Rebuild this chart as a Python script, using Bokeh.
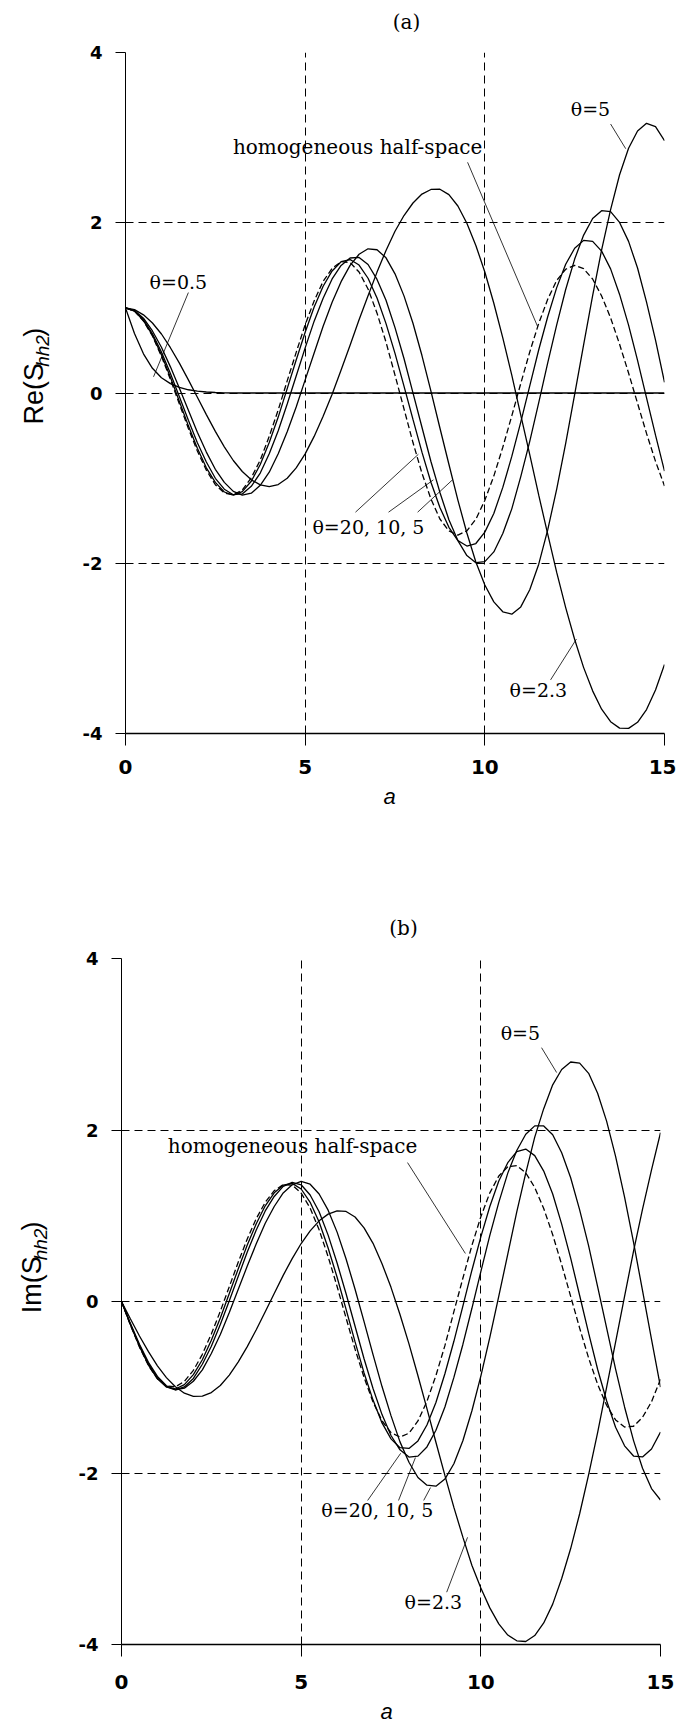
import numpy as np
from bokeh.plotting import figure
from bokeh.layouts import column, row
from bokeh.models import Range1d, FixedTicker, Label
from bokeh.core.properties import value
from bokeh.embed import file_html
from bokeh.resources import INLINE

# ---------------- data ----------------
A = [0.0, 0.25, 0.5, 0.75, 1.0, 1.25, 1.5, 1.75, 2.0, 2.25, 2.5, 2.75,
     3.0, 3.25, 3.5, 3.75, 4.0, 4.25, 4.5, 4.75, 5.0, 5.25, 5.5, 5.75,
     6.0, 6.25, 6.5, 6.75, 7.0, 7.25, 7.5, 7.75, 8.0, 8.25, 8.5, 8.75,
     9.0, 9.25, 9.5, 9.75, 10.0, 10.25, 10.5, 10.75, 11.0, 11.25, 11.5, 11.75,
     12.0, 12.25, 12.5, 12.75, 13.0, 13.25, 13.5, 13.75, 14.0, 14.25, 14.5, 14.75,
     15.0]

# (a) Re(S_hh2)
re_hom = [1.0, 0.963, 0.846, 0.670, 0.432, 0.160, -0.129, -0.417, -0.681, -0.907, -1.077, -1.174,
          -1.198, -1.140, -0.996, -0.788, -0.510, -0.199, 0.142, 0.477, 0.802, 1.082, 1.311, 1.465,
          1.543, 1.532, 1.421, 1.222, 0.938, 0.597, 0.210, -0.186, -0.582, -0.942, -1.245, -1.480,
          -1.620, -1.670, -1.619, -1.483, -1.261, -0.976, -0.637, -0.269, 0.112, 0.482, 0.818, 1.101,
          1.322, 1.454, 1.500, 1.460, 1.339, 1.140, 0.883, 0.573, 0.235, -0.121, -0.475, -0.803,
          -1.092]
re_t20 = [1.0, 0.963, 0.850, 0.679, 0.448, 0.186, -0.100, -0.386, -0.648, -0.879, -1.050, -1.163,
          -1.200, -1.158, -1.037, -0.840, -0.582, -0.283, 0.052, 0.387, 0.714, 1.010, 1.254, 1.434,
          1.542, 1.568, 1.503, 1.348, 1.115, 0.815, 0.465, 0.080, -0.310, -0.695, -1.048, -1.345,
          -1.578, -1.733, -1.798, -1.768, -1.634, -1.415, -1.109, -0.745, -0.342, 0.083, 0.508, 0.896,
          1.238, 1.512, 1.700, 1.793, 1.781, 1.667, 1.458, 1.158, 0.797, 0.383, -0.058, -0.495,
          -0.917]
re_t10 = [1.0, 0.965, 0.861, 0.696, 0.481, 0.230, -0.045, -0.320, -0.584, -0.811, -1.002, -1.130,
          -1.195, -1.186, -1.096, -0.940, -0.713, -0.444, -0.130, 0.200, 0.530, 0.844, 1.113, 1.340,
          1.499, 1.586, 1.593, 1.510, 1.334, 1.089, 0.768, 0.405, 0.002, -0.402, -0.805, -1.168,
          -1.489, -1.734, -1.910, -1.993, -1.981, -1.867, -1.651, -1.361, -0.983, -0.568, -0.112, 0.353,
          0.801, 1.216, 1.573, 1.855, 2.050, 2.142, 2.130, 2.004, 1.781, 1.468, 1.067, 0.621,
          0.125]
re_t5 = [1.0, 0.969, 0.879, 0.729, 0.538, 0.307, 0.056, -0.203, -0.461, -0.694, -0.896, -1.050,
         -1.156, -1.200, -1.177, -1.084, -0.930, -0.713, -0.455, -0.165, 0.154, 0.470, 0.784, 1.065,
         1.308, 1.500, 1.630, 1.694, 1.683, 1.588, 1.400, 1.141, 0.819, 0.440, 0.023, -0.411,
         -0.837, -1.258, -1.645, -1.985, -2.256, -2.454, -2.570, -2.598, -2.513, -2.312, -2.011, -1.608,
         -1.129, -0.592, -0.015, 0.568, 1.145, 1.681, 2.154, 2.564, 2.876, 3.078, 3.168, 3.130,
         2.963]
re_t23 = [1.0, 0.979, 0.918, 0.822, 0.693, 0.532, 0.351, 0.154, -0.050, -0.254, -0.451, -0.632,
          -0.793, -0.922, -1.020, -1.079, -1.100, -1.075, -1.002, -0.880, -0.715, -0.510, -0.274, -0.015,
          0.270, 0.562, 0.860, 1.143, 1.420, 1.675, 1.900, 2.085, 2.232, 2.337, 2.391, 2.394,
          2.330, 2.197, 1.994, 1.733, 1.422, 1.054, 0.647, 0.209, -0.261, -0.724, -1.200, -1.658,
          -2.108, -2.521, -2.896, -3.226, -3.499, -3.715, -3.861, -3.937, -3.940, -3.868, -3.719, -3.488,
          -3.190]
a_t05 = [0.0, 0.25, 0.5, 0.75, 1.0, 1.25, 1.5, 1.75, 2.0, 2.25, 2.5, 2.75, 3.0, 15.0]
re_t05 = [1.0, 0.70, 0.46, 0.29, 0.18, 0.11, 0.065, 0.038, 0.022, 0.012, 0.006, 0.002, 0.0, 0.0]

# (b) Im(S_hh2)
im_hom = [0.0, -0.277, -0.532, -0.746, -0.901, -0.986, -0.995, -0.931, -0.803, -0.616, -0.379, -0.114,
          0.173, 0.460, 0.730, 0.967, 1.157, 1.292, 1.363, 1.358, 1.264, 1.090, 0.836, 0.523,
          0.175, -0.193, -0.556, -0.884, -1.173, -1.391, -1.530, -1.580, -1.536, -1.393, -1.165, -0.864,
          -0.515, -0.119, 0.271, 0.652, 0.988, 1.267, 1.463, 1.571, 1.584, 1.501, 1.330, 1.085,
          0.779, 0.430, 0.060, -0.310, -0.659, -0.965, -1.210, -1.381, -1.464, -1.455, -1.350, -1.169,
          -0.908]
im_t20 = [0.0, -0.272, -0.525, -0.741, -0.902, -0.996, -1.020, -0.970, -0.852, -0.679, -0.451, -0.192,
          0.094, 0.382, 0.660, 0.907, 1.116, 1.267, 1.356, 1.378, 1.312, 1.157, 0.927, 0.624,
          0.283, -0.092, -0.471, -0.833, -1.150, -1.416, -1.602, -1.705, -1.713, -1.626, -1.440, -1.178,
          -0.842, -0.464, -0.054, 0.362, 0.754, 1.108, 1.405, 1.619, 1.748, 1.778, 1.701, 1.521,
          1.254, 0.902, 0.506, 0.070, -0.369, -0.790, -1.158, -1.467, -1.683, -1.802, -1.813, -1.720,
          -1.522]
im_t10 = [0.0, -0.267, -0.515, -0.728, -0.892, -0.995, -1.030, -0.996, -0.897, -0.732, -0.522, -0.268,
          0.008, 0.294, 0.577, 0.833, 1.056, 1.225, 1.342, 1.390, 1.361, 1.242, 1.047, 0.774,
          0.449, 0.090, -0.289, -0.668, -1.014, -1.319, -1.563, -1.730, -1.814, -1.803, -1.696, -1.502,
          -1.230, -0.885, -0.501, -0.082, 0.349, 0.772, 1.156, 1.497, 1.761, 1.951, 2.048, 2.047,
          1.945, 1.734, 1.443, 1.068, 0.649, 0.173, -0.308, -0.789, -1.230, -1.622, -1.944, -2.182,
          -2.315]
im_t5 = [0.0, -0.258, -0.500, -0.709, -0.874, -0.983, -1.029, -1.011, -0.930, -0.797, -0.607, -0.384,
         -0.128, 0.144, 0.413, 0.673, 0.912, 1.108, 1.266, 1.361, 1.400, 1.368, 1.254, 1.065,
         0.809, 0.496, 0.143, -0.234, -0.619, -0.992, -1.331, -1.637, -1.875, -2.053, -2.142, -2.154,
         -2.071, -1.892, -1.624, -1.277, -0.870, -0.419, 0.062, 0.553, 1.044, 1.496, 1.917, 2.249,
         2.527, 2.706, 2.793, 2.780, 2.661, 2.429, 2.104, 1.692, 1.217, 0.689, 0.126, -0.442,
         -0.999]
im_t23 = [0.0, -0.204, -0.402, -0.585, -0.750, -0.888, -0.995, -1.069, -1.106, -1.104, -1.062, -0.980,
          -0.858, -0.704, -0.526, -0.329, -0.120, 0.094, 0.305, 0.500, 0.676, 0.823, 0.941, 1.019,
          1.057, 1.050, 0.985, 0.859, 0.678, 0.441, 0.165, -0.152, -0.494, -0.866, -1.249, -1.641,
          -2.028, -2.401, -2.748, -3.075, -3.341, -3.573, -3.759, -3.890, -3.957, -3.965, -3.896, -3.749,
          -3.529, -3.230, -2.881, -2.475, -2.019, -1.528, -1.001, -0.474, 0.060, 0.587, 1.078, 1.534,
          1.968]

x_ticks = [0, 5, 10, 15]
y_ticks = [-4, -2, 0, 2, 4]
y_tick_text = ["-4", "-2", "0", "2", "4"]

# in-plot annotation texts and anchor positions (data coordinates)
a_label_text = ["\u03b8=0.5", "homogeneous half-space", "\u03b8=5", "\u03b8=20, 10, 5", "\u03b8=2.3"]
a_label_x = [1.47, 6.46, 12.94, 6.76, 11.49]
a_label_y = [1.30, 2.89, 3.34, -1.57, -3.49]
a_ptr_x0 = [1.75, 9.52, 13.50, 6.40, 7.32, 8.13, 11.83]
a_ptr_y0 = [1.18, 2.71, 3.16, -1.40, -1.40, -1.40, -3.37]
a_ptr_x1 = [0.78, 11.47, 13.92, 8.15, 8.57, 9.10, 12.55]
a_ptr_y1 = [0.19, 0.78, 2.87, -0.72, -1.02, -1.02, -2.89]

b_label_text = ["homogeneous half-space", "\u03b8=5", "\u03b8=20, 10, 5", "\u03b8=2.3"]
b_label_x = [4.76, 11.10, 7.12, 8.68]
b_label_y = [1.81, 3.13, -2.43, -3.50]
b_ptr_x0 = [7.96, 11.69, 6.85, 7.71, 8.41, 9.05]
b_ptr_y0 = [1.62, 2.96, -2.32, -2.32, -2.32, -3.39]
b_ptr_x1 = [9.57, 12.11, 7.77, 8.18, 8.60, 9.63]
b_ptr_y1 = [0.56, 2.67, -1.77, -1.82, -2.17, -2.75]

# page layout (pixels from the top of the page)
W = 676
YLAB_W = 60
HEAD_A, BODY_A, FOOT_A = 40, 743, 79      # panel (a): 862 px
HEAD_B, BODY_B, FOOT_B = 80, 756, 26      # panel (b): 862 px
TOP_A = 0
TOP_B = 862

# outside texts: titles, x-axis labels, y-axis label pieces (page pixels, centers)
title_text = ["(a)", "(b)"]
title_xy = [(406, 21), (403, 927)]
xlab_xy = [(389, 796), (386, 1711)]
a_ylab_text = ["Re(S", "hh2", ")"]
b_ylab_text = ["Im(S", "hh2", ")"]
a_ylab_x = [33.6, 41.8, 33.6]
a_ylab_y = [412.2, 365.6, 345.3]
b_ylab_x = [31.6, 39.8, 31.6]
b_ylab_y = [1301.5, 1257.2, 1236.8]


def blank(width, height, top):
    """A plain figure whose data coordinates are page pixels."""
    q = figure(width=width, height=height, x_range=Range1d(0, width),
               y_range=Range1d(top + height, top), output_backend="svg",
               toolbar_location=None, x_axis_location=None, y_axis_location=None,
               min_border=0)
    q.outline_line_color = None
    q.grid.visible = False
    q.background_fill_color = "white"
    q.border_fill_color = "white"
    return q


def head(top, height, text, xy):
    q = blank(W, height, top)
    q.text(x=[xy[0]], y=[xy[1]], text=[text], text_font=value("DejaVu Serif"),
           text_font_size=value("20px"), text_color="black", text_align="center",
           text_baseline="middle")
    return q


def foot(top, height, xy):
    q = blank(W, height, top)
    q.text(x=[xy[0]], y=[xy[1]], text=["a"], text_font=value("Liberation Sans"),
           text_font_size=value("22px"), text_font_style=value("italic"), text_color="black",
           text_align="center", text_baseline="middle")
    return q


def ylab(top, height, texts, xs, ys):
    q = blank(YLAB_W, height, top)
    sizes = ["27px", "19px", "27px"]
    styles = ["normal", "italic", "normal"]
    for t, x, y, s, st in zip(texts, xs, ys, sizes, styles):
        q.text(x=[x], y=[y], text=[t], angle=np.pi / 2, text_font=value("Liberation Sans"),
               text_font_size=value(s), text_font_style=value(st), text_color="black",
               text_align="center", text_baseline="middle")
    return q


def make_panel(height, left, right, top, bottom, tick_standoff, solid, dashed, extra,
               labels, ptrs):
    p = figure(width=W - YLAB_W, height=height, x_range=Range1d(0, 15), y_range=Range1d(-4, 4),
               output_backend="svg", toolbar_location=None,
               min_border_left=left, min_border_right=right,
               min_border_top=top, min_border_bottom=bottom)
    p.outline_line_color = None
    p.background_fill_color = "white"
    p.border_fill_color = "white"

    p.xaxis.ticker = FixedTicker(ticks=x_ticks)
    p.yaxis.ticker = FixedTicker(ticks=y_ticks)
    p.yaxis.major_label_overrides = {t: s for t, s in zip(y_ticks, y_tick_text)}
    for ax in (p.xaxis[0], p.yaxis[0]):
        ax.axis_line_color = "black"
        ax.major_tick_line_color = "black"
        ax.minor_tick_line_color = None
        ax.major_tick_in = 0
        ax.major_label_text_color = "black"
        ax.major_label_text_font = "DejaVu Sans"
        ax.major_label_text_font_style = "bold"
    p.xaxis.major_tick_out = 12
    p.yaxis.major_tick_out = 10
    p.xaxis.axis_line_width = 1.5
    p.yaxis.axis_line_width = 1
    p.xaxis.major_label_text_font_size = "20px"
    p.yaxis.major_label_text_font_size = "18px"
    p.xaxis.major_label_standoff = tick_standoff
    p.yaxis.major_label_standoff = 13

    p.xgrid.ticker = FixedTicker(ticks=[5, 10, 15])
    p.ygrid.ticker = FixedTicker(ticks=[-2, 0, 2, 4])
    for g in (p.xgrid[0], p.ygrid[0]):
        g.grid_line_color = "black"
        g.grid_line_dash = "8 5"
        g.grid_line_width = 1
        g.grid_line_alpha = 1

    for ys in solid:
        p.line(A, ys, line_color="black", line_width=1.3)
    p.line(A, dashed, line_color="black", line_width=1.3, line_dash="6 3")
    if extra is not None:
        p.line(extra[0], extra[1], line_color="black", line_width=1.3)

    txt, lx, ly = labels
    for t, x, y in zip(txt, lx, ly):
        size = "20px" if t.startswith("homogeneous") else "19px"
        p.add_layout(Label(x=x, y=y, text=t, text_font="DejaVu Serif", text_font_size=size,
                           text_color="black", text_align="center", text_baseline="middle"))
    p.segment(x0=ptrs[0], y0=ptrs[1], x1=ptrs[2], y1=ptrs[3], line_color="black", line_width=0.8)
    return p


# panel (a): frame spans page x 125..664, y 52..733
pa = make_panel(BODY_A, 125 - YLAB_W, 12, 52 - HEAD_A, HEAD_A + BODY_A - 733, 14,
                [re_t20, re_t10, re_t5, re_t23], re_hom, (a_t05, re_t05),
                (a_label_text, a_label_x, a_label_y),
                (a_ptr_x0, a_ptr_y0, a_ptr_x1, a_ptr_y1))
# panel (b): frame spans page x 121..660, y 958..1644
pb = make_panel(BODY_B, 121 - YLAB_W, 16, 958 - TOP_B - HEAD_B, TOP_B + HEAD_B + BODY_B - 1644, 18,
                [im_t20, im_t10, im_t5, im_t23], im_hom, None,
                (b_label_text, b_label_x, b_label_y),
                (b_ptr_x0, b_ptr_y0, b_ptr_x1, b_ptr_y1))

ha = head(TOP_A, HEAD_A, title_text[0], title_xy[0])
hb = head(TOP_B, HEAD_B, title_text[1], title_xy[1])
la = ylab(TOP_A + HEAD_A, BODY_A, a_ylab_text, a_ylab_x, a_ylab_y)
lb = ylab(TOP_B + HEAD_B, BODY_B, b_ylab_text, b_ylab_x, b_ylab_y)
fa = foot(TOP_A + HEAD_A + BODY_A, FOOT_A, xlab_xy[0])
fb = foot(TOP_B + HEAD_B + BODY_B, FOOT_B, xlab_xy[1])

layout = column(ha, row(la, pa, spacing=0), fa,
                hb, row(lb, pb, spacing=0), fb, spacing=0)
open("out.html", "w").write(file_html(layout, INLINE))
